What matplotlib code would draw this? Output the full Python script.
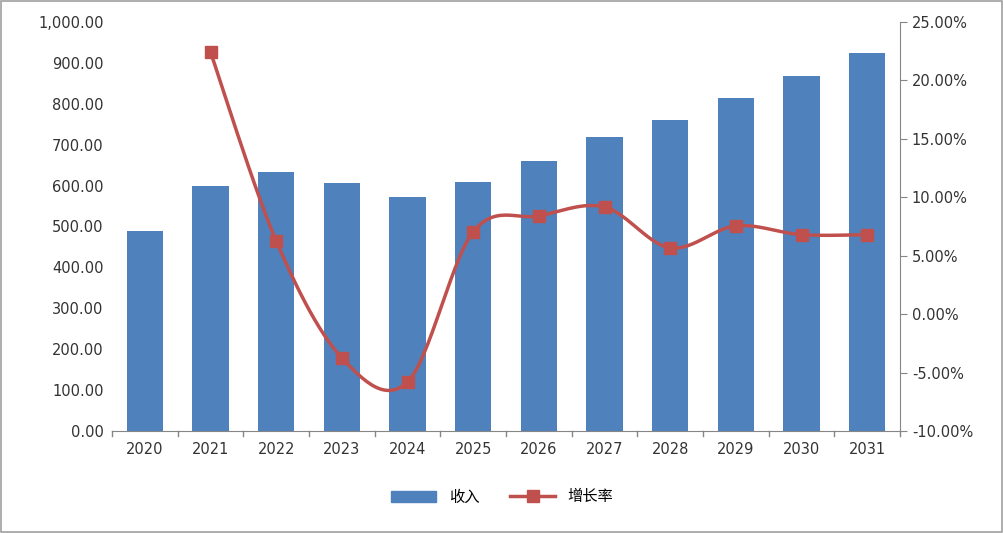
import matplotlib
matplotlib.use("Agg")
import matplotlib.pyplot as plt
import numpy as np
from matplotlib.patches import Rectangle

plt.rcParams['font.family'] = ['DejaVu Sans', 'Noto Sans CJK SC']

years = ['2020','2021','2022','2023','2024','2025','2026','2027','2028','2029','2030','2031']
revenue = [489, 599, 633, 606, 572, 609, 660, 719, 760, 814, 868, 924]
growth_years = years[1:]
growth = [22.43, 6.27, -3.74, -5.80, 7.04, 8.40, 9.17, 5.67, 7.55, 6.80, 6.80]

fig = plt.figure(figsize=(10.04, 5.33), dpi=100)
ax = fig.add_axes([112/1004, 1-431/533, 788/1004, 409/533])
x = np.arange(len(years))
ax.bar(x, revenue, width=0.55, color='#4F81BD', zorder=2, label='收入')
ax.set_ylim(0, 1000)
ax.set_xlim(-0.5, len(years)-0.5)
ax.set_yticks(np.arange(0, 1001, 100))
ax.set_yticklabels([f'{v:,.2f}' for v in np.arange(0, 1001, 100)])
ax.set_xticks(x)
ax.set_xticklabels(years)
for s in ['top','right','left']:
    ax.spines[s].set_visible(False)
ax.spines['bottom'].set_color('#868686')
ax.tick_params(axis='y', length=0, labelsize=10.5, colors='#333333', pad=6)
ax.tick_params(axis='x', length=0, labelsize=10.5, colors='#333333', pad=8)
for xi in np.arange(-0.5, len(years), 1):
    ax.plot([xi, xi], [0, -12], color='#868686', lw=1, clip_on=False)

ax2 = ax.twinx()
ax2.set_ylim(-10, 25)
ax2.set_yticks(np.arange(-10, 26, 5))
ax2.set_yticklabels([f'{v:.2f}%' for v in np.arange(-10, 26, 5)])
for s in ['top','left','bottom']:
    ax2.spines[s].set_visible(False)
ax2.spines['right'].set_color('#868686')
ax2.tick_params(axis='y', direction='out', length=5, color='#868686', labelsize=10.5, colors='#333333')

gx = np.arange(1, len(years), dtype=float)
gy = np.array(growth)
px, py = [], []
n = len(gx)
for i in range(n-1):
    p0 = (gx[max(i-1,0)], gy[max(i-1,0)]); p1 = (gx[i], gy[i])
    p2 = (gx[i+1], gy[i+1]); p3 = (gx[min(i+2,n-1)], gy[min(i+2,n-1)])
    c1 = (p1[0]+(p2[0]-p0[0])/6, p1[1]+(p2[1]-p0[1])/6)
    c2 = (p2[0]-(p3[0]-p1[0])/6, p2[1]-(p3[1]-p1[1])/6)
    t = np.linspace(0, 1, 30)
    bx = (1-t)**3*p1[0]+3*(1-t)**2*t*c1[0]+3*(1-t)*t**2*c2[0]+t**3*p2[0]
    by = (1-t)**3*p1[1]+3*(1-t)**2*t*c1[1]+3*(1-t)*t**2*c2[1]+t**3*p2[1]
    px.extend(bx); py.extend(by)
ax2.plot(px, py, color='#C0504D', lw=2.5, zorder=3)
ax2.plot(gx, gy, 's', color='#C0504D', ms=8, zorder=4)

from matplotlib.lines import Line2D
from matplotlib.patches import Patch
handles = [Patch(color='#4F81BD'), Line2D([], [], color='#C0504D', lw=2.5, marker='s', ms=8)]
fig.legend(handles, ['收入', '增长率'], loc='center', bbox_to_anchor=(0.5, 1-497/533),
           ncol=2, frameon=False, fontsize=11, handlelength=3, columnspacing=2)

fig.patches.append(Rectangle((0.001, 0.002), 0.997, 0.996, transform=fig.transFigure,
                             fill=False, edgecolor='#A0A0A0', lw=1.2))
fig.savefig('out.png', dpi=100)
